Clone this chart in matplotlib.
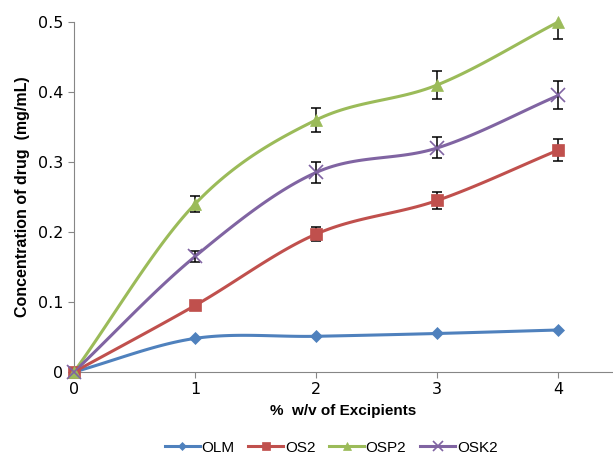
import numpy as np
import matplotlib
matplotlib.use("Agg")
import matplotlib.pyplot as plt
from matplotlib.lines import Line2D

x = [0, 1, 2, 3, 4]
olm = [0, 0.048, 0.051, 0.055, 0.060]
os2 = [0, 0.095, 0.197, 0.245, 0.317]
osp2 = [0, 0.240, 0.360, 0.410, 0.500]
osk2 = [0, 0.165, 0.285, 0.320, 0.395]
err_olm = [0, 0, 0, 0, 0]
err_os2 = [0, 0.004, 0.010, 0.012, 0.016]
err_osp2 = [0, 0.012, 0.017, 0.020, 0.025]
err_osk2 = [0, 0.008, 0.015, 0.015, 0.020]
names = ["OLM", "OS2", "OSP2", "OSK2"]
colors = ["#4F81BD", "#C0504D", "#9BBB59", "#8064A2"]
markers = ["D", "s", "^", "x"]
msizes = [6, 9, 9, 10]

def smooth(xs, ys, n=30):
    xs = np.asarray(xs, float); ys = np.asarray(ys, float)
    px = np.concatenate([[2*xs[0]-xs[1]], xs, [2*xs[-1]-xs[-2]]])
    py = np.concatenate([[2*ys[0]-ys[1]], ys, [2*ys[-1]-ys[-2]]])
    ox, oy = [], []
    for i in range(1, len(px)-2):
        t = np.linspace(0, 1, n)
        for arr, out in ((px, ox), (py, oy)):
            p0, p1, p2, p3 = arr[i-1], arr[i], arr[i+1], arr[i+2]
            out.extend(0.5*((2*p1) + (-p0+p2)*t + (2*p0-5*p1+4*p2-p3)*t**2 + (-p0+3*p1-3*p2+p3)*t**3))
    return np.array(ox), np.array(oy)

fig = plt.figure(figsize=(6.13, 4.57), dpi=100)
ax = fig.add_axes([0.1207, 0.186, 0.877, 0.766])

series = [olm, os2, osp2, osk2]
errs = [err_olm, err_os2, err_osp2, err_osk2]
for ys, es, c, m, ms in zip(series, errs, colors, markers, msizes):
    sx, sy = smooth(x, ys)
    ax.plot(sx, sy, color=c, lw=2.2, zorder=2, clip_on=False)
    xe = [xi for xi, e in zip(x, es) if e > 0]
    ye = [yi for yi, e in zip(ys, es) if e > 0]
    ee = [e for e in es if e > 0]
    if ee:
        ax.errorbar(xe, ye, yerr=ee, fmt="none", ecolor="black", elinewidth=1.1, capsize=3.5, capthick=1.1, zorder=3, clip_on=True)
    mew = 1.2 if m == "x" else 0.5
    ax.plot(x, ys, linestyle="none", marker=m, color=c, ms=ms, mew=mew, zorder=4, clip_on=False)

ax.set_xlim(0, 4.44)
ax.set_ylim(0, 0.5)
ax.set_xticks([0, 1, 2, 3, 4])
ax.set_yticks([0, 0.1, 0.2, 0.3, 0.4, 0.5])
ax.set_yticklabels(["0", "0.1", "0.2", "0.3", "0.4", "0.5"])
for s in ["top", "right"]:
    ax.spines[s].set_visible(False)
for s in ["left", "bottom"]:
    ax.spines[s].set_color("#868686")
ax.tick_params(colors="#868686", labelcolor="black", length=4, labelsize=11.5)
for lab in ax.get_xticklabels() + ax.get_yticklabels():
    lab.set_family(["Liberation Sans Narrow", "DejaVu Sans"])
ax.set_xlabel("%  w/v of Excipients", fontsize=11, fontweight="bold", family=["Liberation Sans", "DejaVu Sans"], labelpad=5)
ax.set_ylabel("Concentration of drug  (mg/mL)", fontsize=11.5, fontweight="bold", family=["Liberation Sans", "DejaVu Sans"], labelpad=6)

handles = [Line2D([0], [0], color=c, lw=2.2, marker=m, ms=ms*0.7, mew=1.2 if m == "x" else 0.5) for c, m, ms in zip(colors, markers, msizes)]
fig.legend(handles, names, loc="lower center", bbox_to_anchor=(0.54, -0.025), ncol=4, frameon=False,
           prop={"family": ["Liberation Sans", "DejaVu Sans"], "size": 11}, handlelength=2.3, columnspacing=0.9, handletextpad=0.1)

fig.savefig("out.png", dpi=100)
